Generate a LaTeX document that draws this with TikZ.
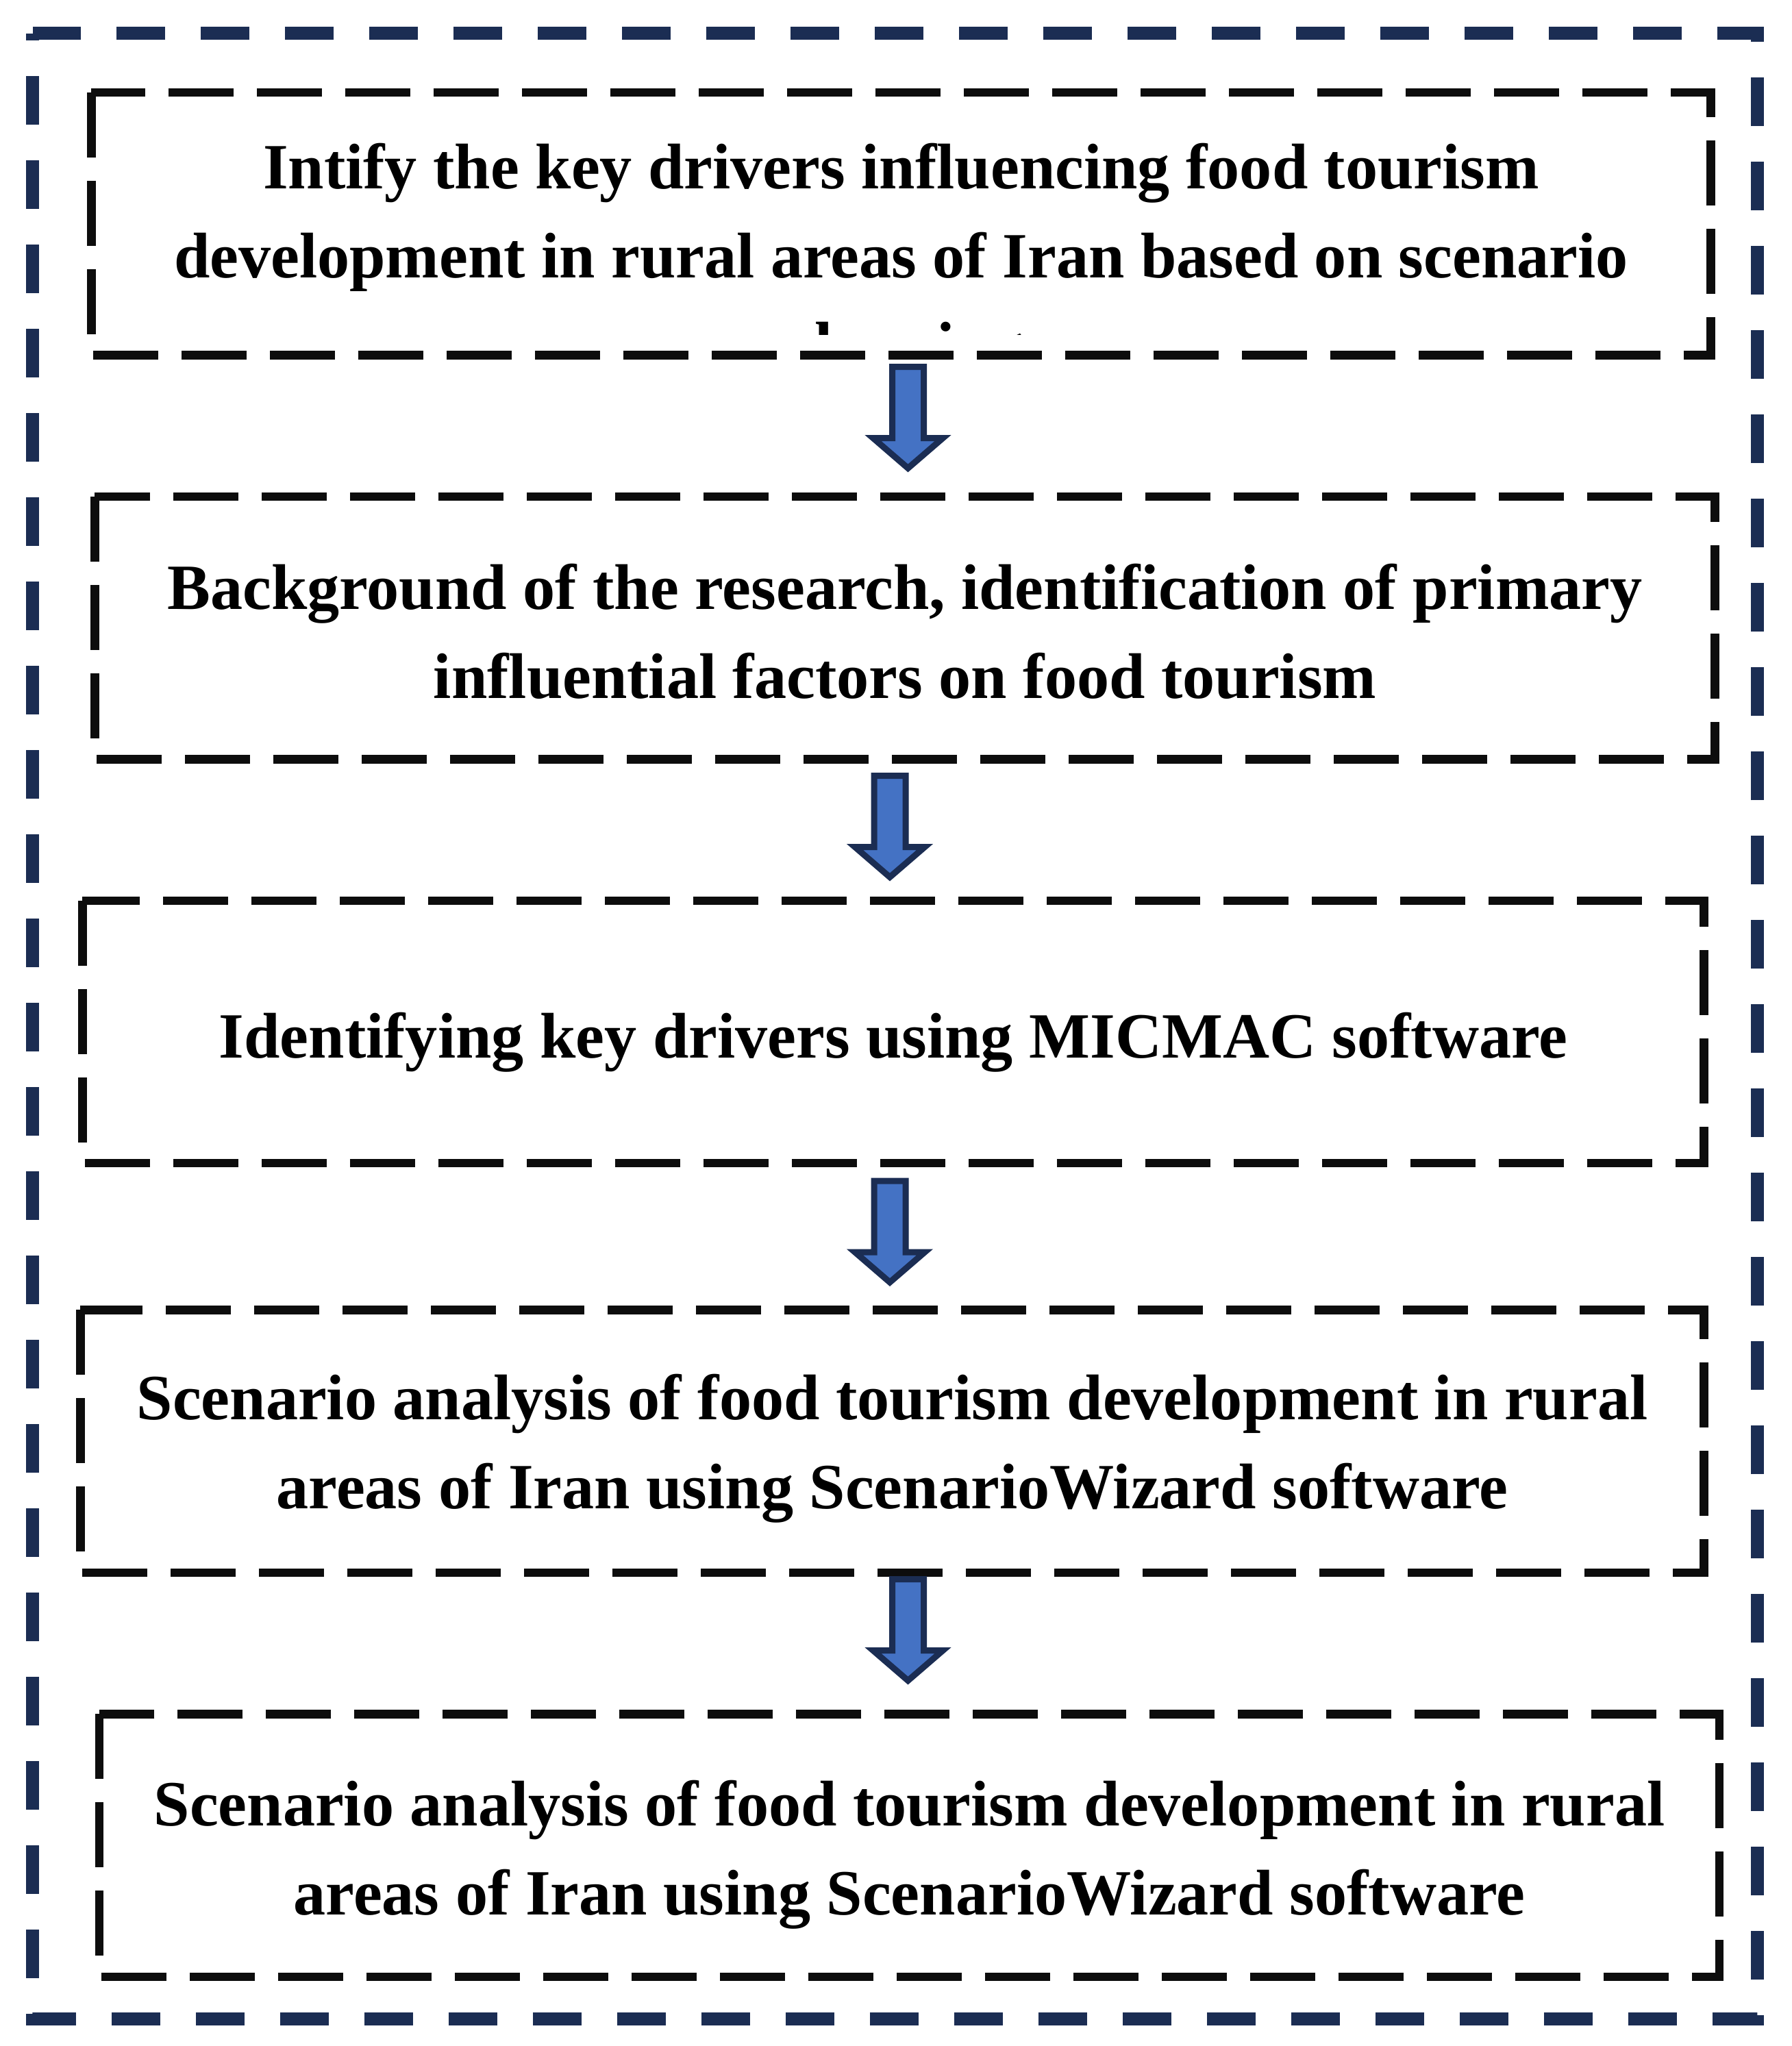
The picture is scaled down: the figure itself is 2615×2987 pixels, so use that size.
\documentclass[tikz,border=0pt]{standalone}
\usepackage{fontspec}
\setmainfont{Liberation Serif}
\definecolor{navy}{RGB}{27,45,83}
\definecolor{arrowblue}{RGB}{68,114,196}
\definecolor{boxblack}{RGB}{13,13,13}
\begin{document}
\begin{tikzpicture}[x=0.1mm,y=-0.1mm,
  outerframe/.style={draw=navy,line width=1.9mm,dash pattern=on 7.1mm off 5.2mm,dash phase=6.05mm},
  boxline/.style={draw=boxblack,line width=1.25mm,dash pattern=on 9.5mm off 3.4mm},
  boxnode/.style={inner sep=0pt},
  textnode/.style={inner sep=0pt,align=center,font=\fontsize{26.8pt}{37pt}\selectfont\bfseries},
  arrowstyle/.style={draw=navy,fill=arrowblue,line width=0.9mm,line join=miter},
  downarrow/.pic={\path[arrowstyle] (-23,0) -- (23,0) -- (23,104) -- (51,104) -- (0,148) -- (-51,104) -- (-23,104) -- cycle;}]
\useasboundingbox (0,0) rectangle (2615,2987);
\fill[white] (0,0) rectangle (2615,2987);
% outer frame
\coordinate (fnw) at (47.5,48.5);
\coordinate (fse) at (2565.5,2947.5);
\draw[outerframe] (fnw) rectangle (fse);
% boxes
\node[boxnode,minimum width=236.3mm,minimum height=38.25mm] (b1) at (1315.5,326.75) {};
\node[boxnode,minimum width=236.4mm,minimum height=38.25mm] (b2) at (1321,916.75) {};
\node[boxnode,minimum width=236.6mm,minimum height=38.2mm] (b3) at (1304,1506.5) {};
\node[boxnode,minimum width=236.9mm,minimum height=38.25mm] (b4) at (1302.5,2104.25) {};
\node[boxnode,minimum width=236.4mm,minimum height=38.25mm] (b5) at (1327.5,2694.25) {};
% texts
\begin{scope}
  \clip (b1.north west) rectangle (2497,488);
  \node[textnode] (t1) at (1315.5,383)
    {Intify the key drivers influencing food tourism\\development in rural areas of Iran based on scenario\\planning};
\end{scope}
\node[textnode] (t2) at ([yshift=-1.4pt]b2.center)
  {Background of the research, identification of primary\\influential factors on food tourism};
\node[textnode] (t3) at ([yshift=-4.3pt]b3.center)
  {Identifying key drivers using MICMAC software};
\node[textnode] (t4) at ([yshift=-3.1pt]b4.center)
  {Scenario analysis of food tourism development in rural\\areas of Iran using ScenarioWizard software};
\node[textnode] (t5) at ([yshift=-3.7pt]b5.center)
  {Scenario analysis of food tourism development in rural\\areas of Iran using ScenarioWizard software};
\foreach \b in {b1,b2,b3,b4,b5}
  \draw[boxline] (\b.north west) rectangle (\b.south east);
% arrows
\pic (a1) at (1325.5,535.5) {downarrow};
\pic (a2) at (1299,1132.5) {downarrow};
\pic (a3) at (1299,1724) {downarrow};
\pic (a4) at (1325.5,2305.5) {downarrow};
\end{tikzpicture}
\end{document}
